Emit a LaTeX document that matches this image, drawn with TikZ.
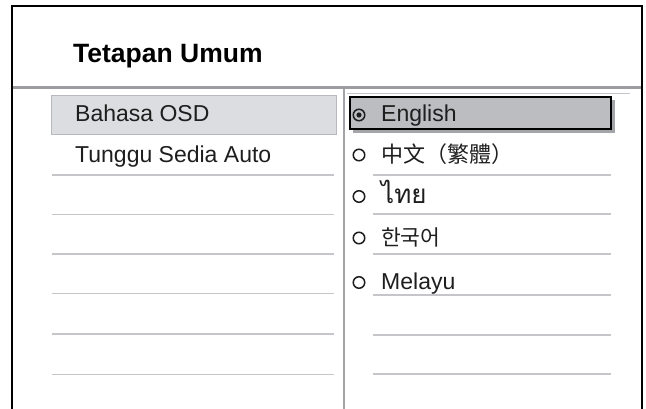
\documentclass[tikz,border=0pt]{standalone}
\usepackage{fontspec}
\setmainfont{Liberation Sans}
\newfontfamily\tcfont{Noto Sans CJK TC}
\newfontfamily\krfont{Noto Sans CJK KR}
\newfontfamily\thaifont[Script=Thai]{Loma}
\usetikzlibrary{positioning}
\definecolor{headgray}{HTML}{9C9DA1}
\definecolor{divgray}{HTML}{A3A4A8}
\definecolor{boxgray}{HTML}{DCDDE0}
\definecolor{boxedge}{HTML}{B8B9BC}
\definecolor{selgray}{HTML}{BCBDC1}
\definecolor{shadowgray}{HTML}{A4A5A9}
\definecolor{linegray}{HTML}{C4C6CA}
\definecolor{inkgray}{HTML}{1E1E1E}

\begin{document}
\begin{tikzpicture}[x=1pt, y=-1pt,
    every node/.style={font=\fontsize{23}{26}\selectfont, text=inkgray, inner sep=0pt, anchor=base west},
    radio/.style={circle, draw=inkgray, line width=1.5pt, minimum size=11.5pt, inner sep=0pt, anchor=center},
    rowline/.style={linegray, line width=1.8pt}]
    \useasboundingbox (0,0) rectangle (646,409);

    % Frame
    \draw[line width=1.5pt] (12,409) -- (12,6) -- (642,6) -- (642,409);

    % Header
    \node[font=\bfseries\fontsize{26.5}{30}\selectfont, text=black] (title) at (73,63) {Tetapan Umum};
    \draw[headgray, line width=3pt] (12.75,88) -- (641.25,88);
    \draw[linegray, line width=0.8pt] (347,93) -- (630,93);
    \draw[divgray, line width=2.5pt] (344,89.5) -- (344,409);

    % Left menu
    \filldraw[fill=boxgray, draw=boxedge, line width=1pt] (51,96) rectangle (336,135);
    \node (osd) at (75,122) {Bahasa OSD};
    \node (standby) at (75,163) {Tunggu Sedia Auto};
    \foreach \y in {175,214.5,254,293.5,334,374.5}
        \draw[rowline] (52,\y) -- (334,\y);

    % Right options
    \fill[shadowgray] (353,100) rectangle (615,133);
    \filldraw[fill=selgray, draw=black, line width=2.5pt] (350,97) rectangle (611,129);
    \node[radio] (r1) at (359,115) {};
    \fill[inkgray] (r1.center) circle (2.6pt);
    \node (english) at (381,122) {English};

    \node[radio] (r2) at (359,155) {};
    \node[font=\tcfont\fontsize{22}{26}\selectfont] (chinese) at (381,163) {中文（繁體）};

    \node[radio] (r3) at (359,196.5) {};
    \node[font=\thaifont\fontsize{26}{30}\selectfont] (thai) at (381,204) {ไทย};

    \node[radio] (r4) at (359,238) {};
    \node[font=\krfont\fontsize{21.5}{26}\selectfont] (korean) at (381,246) {한국어};

    \node[radio] (r5) at (359,282.5) {};
    \node (malay) at (381,289) {Melayu};

    \foreach \y in {175,214,254,295,335,374}
        \draw[rowline] (373,\y) -- (611,\y);
\end{tikzpicture}
\end{document}
